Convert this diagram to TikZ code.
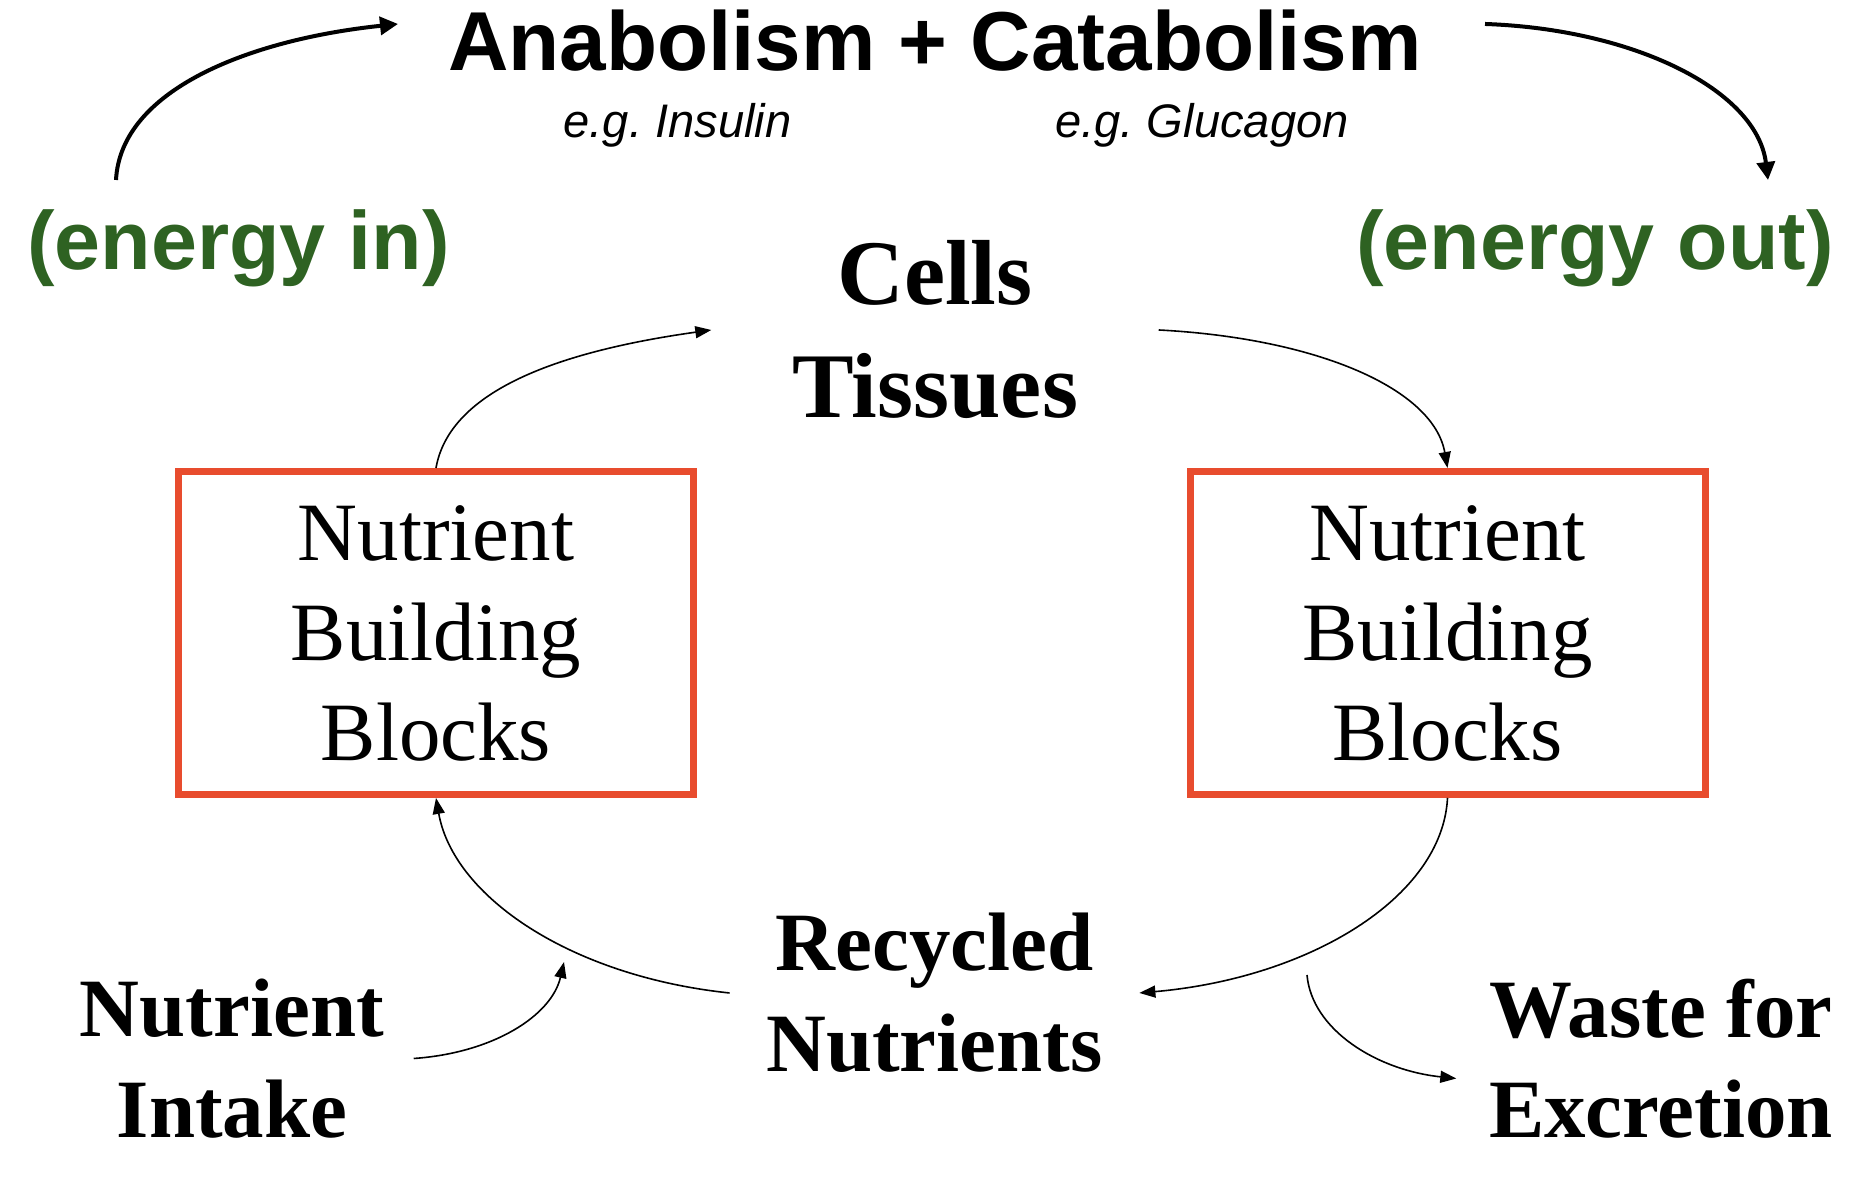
\documentclass[tikz,border=0pt]{standalone}
\usepackage{fontspec}
\setmainfont{Liberation Serif}
\setsansfont{Liberation Sans}
\usetikzlibrary{arrows.meta}
\definecolor{boxred}{RGB}{232,76,46}
\definecolor{leafgreen}{RGB}{46,98,34}
\tikzset{
  bigarrow/.style={-{Triangle[length=0.18cm,width=0.18cm]}, line width=0.04cm},
  thinarrow/.style={-{Triangle[length=0.16cm,width=0.12cm]}, line width=0.016cm},
  nbox/.style={draw=boxred, line width=0.07cm, minimum width=5.15cm, minimum height=3.23cm,
    inner sep=0pt, align=center, font=\fontsize{23.6}{28.45}\selectfont},
  boldlabel/.style={align=center, inner ysep=0pt, font=\bfseries\fontsize{23.6}{28.6}\selectfont},
  energy/.style={anchor=base, text=leafgreen, font=\sffamily\bfseries\fontsize{23.5}{28}\selectfont},
  hormone/.style={anchor=base, font=\sffamily\itshape\fontsize{13.4}{16}\selectfont},
}
\begin{document}
\begin{tikzpicture}
\useasboundingbox (0,0) rectangle (18.68,12.02);
% top row
\node (title) at (9.35,11.31)[anchor=base, font=\sffamily\bfseries\fontsize{23.8}{28}\selectfont]{Anabolism + Catabolism};
\node (ins) at (6.775,10.64)[hormone]{e.g.\ Insulin};
\node (glu) at (12.02,10.64)[hormone]{e.g.\ Glucagon};
\node (ein) at (2.385,9.32)[energy]{(energy in)};
\node (eout) at (15.95,9.32)[energy]{(energy out)};
\coordinate (inup) at (1.16,10.22);
\coordinate (tleft) at (3.98,11.78);
\coordinate (tright) at (14.85,11.78);
\coordinate (outdown) at (17.68,10.22);
\draw [bigarrow] (inup) .. controls +(87:0.9) and +(186:1.5) .. (tleft);
\draw [bigarrow] (tright) .. controls +(-2:1.5) and +(97:0.9) .. (outdown);
% middle
\node (cells) at (9.35,8.72)[boldlabel, inner xsep=0.8cm, font=\bfseries\fontsize{26.3}{32.15}\selectfont]{Cells\\Tissues};
\node (lbox) at (4.36,5.69)[nbox]{Nutrient\\Building\\Blocks};
\node (rbox) at (14.475,5.69)[nbox]{Nutrient\\Building\\Blocks};
\draw [thinarrow] (lbox.north) .. controls +(80:0.8) and +(188:1.5) .. (cells.west);
\draw [thinarrow] (cells.east) .. controls +(-3:1.6) and +(100:0.8) .. (rbox.north);
% bottom
\node (rec) at (9.345,2.09)[boldlabel, inner xsep=0.36cm]{Recycled\\Nutrients};
\node (intake) at (2.32,1.435)[boldlabel, inner xsep=0.29cm]{Nutrient\\Intake};
\node (waste) at (16.61,1.435)[boldlabel, inner xsep=0.32cm]{Waste for\\Excretion};
\coordinate (merge) at (5.64,2.40);
\coordinate (split) at (13.07,2.27);
\draw [thinarrow] (rec.west) .. controls +(174:1.6) and +(-80:1.0) .. (lbox.south);
\draw [thinarrow] (intake.east) .. controls +(4:0.8) and +(-103:0.55) .. (merge);
\draw [thinarrow] (rbox.south) .. controls +(-93:1.0) and +(5:1.7) .. (rec.east);
\draw [thinarrow] (split) .. controls +(-85:0.55) and +(174:0.8) .. ([yshift=-0.2cm]waste.west);
\end{tikzpicture}
\end{document}
